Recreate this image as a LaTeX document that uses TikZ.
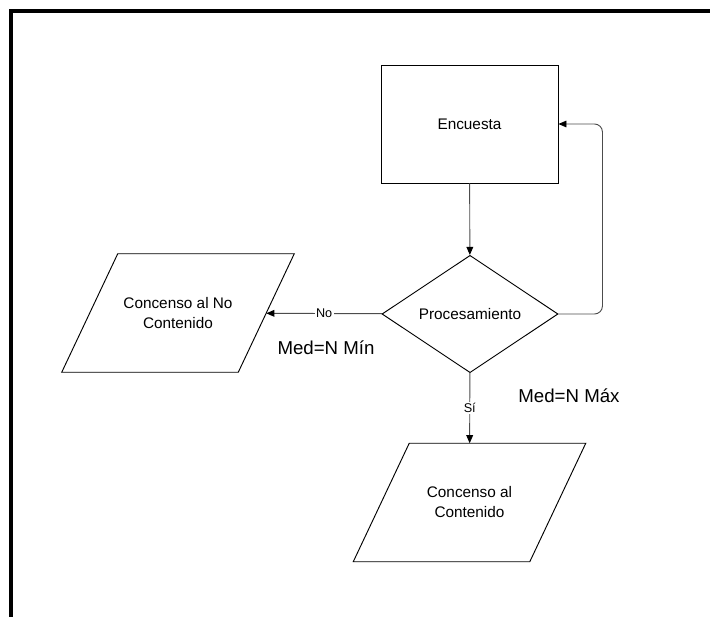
\documentclass[tikz,border=0pt]{standalone}
\usepackage{fontspec}
\setmainfont{Liberation Sans}
\usetikzlibrary{shapes.geometric,arrows.meta}

\begin{document}
\begin{tikzpicture}[x=0.75pt,y=0.75pt,yscale=-1,xscale=1,
    boxstep/.style={draw,line width=0.7pt,rectangle,minimum width=132.75pt,minimum height=88.5pt,font=\fontsize{11.5}{15}\selectfont},
    decision/.style={draw,line width=0.7pt,diamond,inner sep=0pt,minimum width=132pt,minimum height=88pt,font=\fontsize{11.5}{15}\selectfont},
    datashape/.style={rectangle,minimum width=132pt,minimum height=88.5pt,align=center,font=\fontsize{11.5}{15}\selectfont},
    conn/.style={draw=black!70,line width=0.7pt,-{Triangle[length=6pt,width=5pt,color=black]}},
    lbl/.style={fill=white,inner sep=1pt,font=\fontsize{9.5}{11}\selectfont},
    medtext/.style={font=\fontsize{14}{17}\selectfont}]
        \useasboundingbox (0,0) rectangle (710,617);

        %Shape: Frame
        \draw[line width=3pt] (11,617) -- (11,11) -- (710,11) ;

        %Shape: Rectangle
        \node[boxstep] (encuesta) at (469.5,124) {Encuesta};
        %Shape: Diamond
        \node[decision] (proc) at (470,314) {Procesamiento};
        %Shape: Parallelogram
        \node[datashape] (consNo) at (178,313) {Concenso al No\\Contenido};
        %Shape: Parallelogram
        \node[datashape] (consSi) at (469.5,502.5) {Concenso al\\Contenido};
        \foreach \n in {consNo,consSi}
            \draw[line width=0.7pt] ([xshift=21pt]\n.north west) -- ([xshift=21pt]\n.north east) -- ([xshift=-21pt]\n.south east) -- ([xshift=-21pt]\n.south west) -- cycle ;

        %Straight Lines
        \draw[conn] (encuesta) -- (proc) ;
        \draw[conn] (proc) -- node[lbl] {No} (consNo) ;
        \draw[conn] (proc) -- node[lbl] {Sí} (consSi) ;
        %Loop back
        \draw[conn,rounded corners=6pt] (proc.east) -- ++(44,0) |- (encuesta.east) ;

        % Text Node
        \node[medtext] (medMin) at (326,348) {Med=N Mín};
        % Text Node
        \node[medtext] (medMax) at (569,396) {Med=N Máx};

\end{tikzpicture}
\end{document}
